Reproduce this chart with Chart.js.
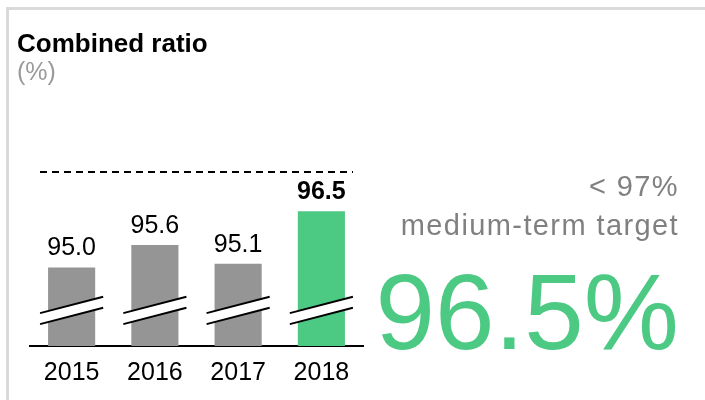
<!DOCTYPE html>
<html>
<head>
<meta charset="utf-8">
<script src="https://cdn.jsdelivr.net/npm/chart.js@4"></script>
<style>
    html, body { margin: 0; overflow: hidden; }
    body { width: 705px; height: 400px; background: #fff; position: relative;
           font-family: "Liberation Sans", Arial, sans-serif; }
    #frame { position: absolute; left: 6px; top: 7px; width: 760px; height: 450px;
             border-left: 3px solid #dadada; border-top: 3px solid #dadada; }
    #ratioChart { position: absolute; left: 0; top: 0; }
    .txt { position: absolute; line-height: 1; white-space: nowrap; }
    #title { left: 17px; top: 30px; font-size: 26px; font-weight: bold; color: #000; }
    #unit { left: 17px; top: 59px; font-size: 25px; color: #9a9a9a; }
    #target { right: 26px; top: 172px; font-size: 29px; color: #808080; letter-spacing: 1.4px; }
    #caption { right: 26px; top: 211px; font-size: 29px; color: #808080; letter-spacing: 1.4px; }
    #headline { right: 26px; top: 259px; font-size: 107px; color: #4cc983; }
</style>
</head>
<body>
<div id="frame"></div>
<canvas id="ratioChart" width="705" height="400"></canvas>
<div class="txt" id="title">Combined ratio</div>
<div class="txt" id="unit">(%)</div>
<div class="txt" id="target"></div>
<div class="txt" id="caption"></div>
<div class="txt" id="headline"></div>
<script>
const years = ['2015', '2016', '2017', '2018'];
const ratios = [95.0, 95.6, 95.1, 96.5];
const barColors = ['#959595', '#959595', '#959595', '#4cc983'];
const axisMin = 92.9;        // value at the baseline (axis is broken)
const dashedLevel = 97.55;   // where the dashed target line sits
const breakLevel = 93.85;    // where the break marks cross the bars
const targetLabel = '< 97%';
const targetCaption = 'medium-term target';

const fontFamily = '"Liberation Sans", Arial, sans-serif';

document.getElementById('target').textContent = targetLabel;
document.getElementById('caption').textContent = targetCaption;
document.getElementById('headline').textContent = ratios[ratios.length - 1].toFixed(1) + '%';

// dashed line across the top of the plot
const dashedLinePlugin = {
    id: 'dashedLine',
    afterDatasetsDraw(chart) {
        const { ctx, chartArea, scales: { y } } = chart;
        const py = y.getPixelForValue(dashedLevel);
        ctx.save();
        ctx.strokeStyle = '#000';
        ctx.lineWidth = 2;
        ctx.setLineDash([7, 5]);
        ctx.beginPath();
        ctx.moveTo(chartArea.left + 10, py);
        ctx.lineTo(chartArea.right - 10, py);
        ctx.stroke();
        ctx.restore();
    }
};

// the double slash "axis break" drawn over every bar
const breakMarksPlugin = {
    id: 'breakMarks',
    afterDatasetsDraw(chart) {
        const ctx = chart.ctx;
        const y0 = chart.scales.y.getPixelForValue(breakLevel);
        const gap = 11;
        ctx.save();
        chart.getDatasetMeta(0).data.forEach(bar => {
            const half = bar.width / 2 + 8;
            const rise = half * 0.26;
            const l = bar.x - half, r = bar.x + half;
            ctx.fillStyle = '#fff';
            ctx.beginPath();
            ctx.moveTo(l, y0 + rise - gap / 2);
            ctx.lineTo(r, y0 - rise - gap / 2);
            ctx.lineTo(r, y0 - rise + gap / 2);
            ctx.lineTo(l, y0 + rise + gap / 2);
            ctx.closePath();
            ctx.fill();
            ctx.strokeStyle = '#000';
            ctx.lineWidth = 2;
            ctx.beginPath();
            ctx.moveTo(l, y0 + rise - gap / 2);
            ctx.lineTo(r, y0 - rise - gap / 2);
            ctx.moveTo(l, y0 + rise + gap / 2);
            ctx.lineTo(r, y0 - rise + gap / 2);
            ctx.stroke();
        });
        ctx.restore();
    }
};

// value labels above the bars, last one bold
const valueLabelsPlugin = {
    id: 'valueLabels',
    afterDatasetsDraw(chart) {
        const ctx = chart.ctx;
        const meta = chart.getDatasetMeta(0);
        ctx.save();
        ctx.fillStyle = '#000';
        ctx.textAlign = 'center';
        ctx.textBaseline = 'alphabetic';
        meta.data.forEach((bar, i) => {
            const last = i === meta.data.length - 1;
            ctx.font = (last ? 'bold ' : '') + '25px ' + fontFamily;
            ctx.fillText(ratios[i].toFixed(1), bar.x, bar.y - 12);
        });
        ctx.restore();
    }
};

new Chart(document.getElementById('ratioChart').getContext('2d'), {
    type: 'bar',
    data: {
        labels: years,
        datasets: [{
            data: ratios,
            backgroundColor: barColors,
            categoryPercentage: 1,
            barPercentage: 0.566
        }]
    },
    options: {
        responsive: false,
        animation: false,
        layout: { padding: { left: 30, right: 342, top: 172, bottom: 0 } },
        plugins: {
            legend: { display: false },
            tooltip: { enabled: false }
        },
        scales: {
            x: {
                grid: { display: false, drawTicks: false },
                border: { display: true, color: '#000', width: 2 },
                ticks: { color: '#000', padding: 12, font: { family: fontFamily, size: 25 } }
            },
            y: { display: false, min: axisMin, max: dashedLevel }
        }
    },
    plugins: [dashedLinePlugin, breakMarksPlugin, valueLabelsPlugin]
});
</script>
</body>
</html>
